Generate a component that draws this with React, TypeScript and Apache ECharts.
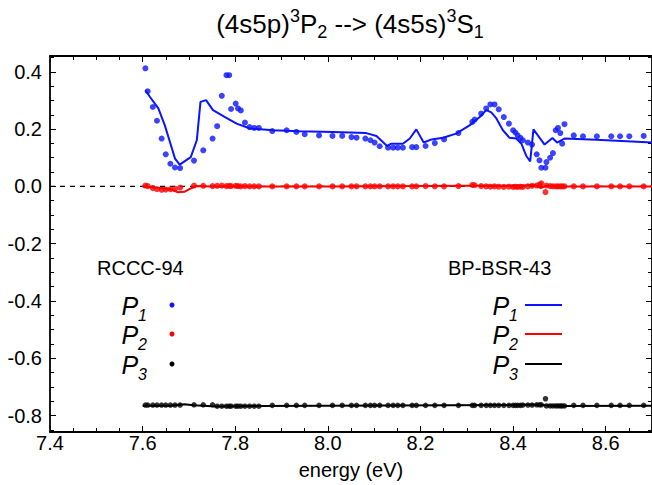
import React, { useEffect, useRef } from "react";
import * as echarts from "echarts";

// RCCC-94 energies (eV), shared by the three polarisation components
const rcccEnergy = [
  7.606, 7.611, 7.622, 7.631, 7.641, 7.65, 7.66, 7.67, 7.681, 7.711, 7.731, 7.751, 7.761, 7.771, 7.781, 7.787,
  7.791, 7.801, 7.806, 7.812, 7.821, 7.831, 7.841, 7.851, 7.88, 7.911, 7.932, 7.95, 7.981, 8.01, 8.031, 8.051,
  8.062, 8.081, 8.092, 8.101, 8.112, 8.13, 8.141, 8.151, 8.162, 8.182, 8.191, 8.211, 8.231, 8.251, 8.282, 8.312,
  8.317, 8.331, 8.342, 8.351, 8.36, 8.369, 8.38, 8.391, 8.4, 8.405, 8.41, 8.416, 8.421, 8.432, 8.441, 8.451,
  8.457, 8.461, 8.47, 8.472, 8.48, 8.486, 8.492, 8.497, 8.502, 8.506, 8.511, 8.531, 8.551, 8.581, 8.612, 8.631,
  8.651, 8.682,
];
const rcccP1 = [
  0.412, 0.332, 0.277, 0.229, 0.167, 0.112, 0.079, 0.066, 0.064, 0.09, 0.126, 0.167, 0.21, 0.316, 0.388, 0.388,
  0.27, 0.289, 0.272, 0.265, 0.223, 0.207, 0.204, 0.204, 0.193, 0.196, 0.19, 0.182, 0.178, 0.176, 0.176, 0.172,
  0.17, 0.167, 0.161, 0.153, 0.14, 0.135, 0.135, 0.135, 0.135, 0.137, 0.137, 0.141, 0.151, 0.164, 0.186, 0.225,
  0.233, 0.254, 0.272, 0.286, 0.286, 0.269, 0.242, 0.219, 0.196, 0.188, 0.178, 0.169, 0.161, 0.153, 0.146, 0.112,
  0.091, 0.065, 0.065, 0.085, 0.1, 0.116, 0.196, 0.204, 0.186, 0.149, 0.217, 0.178, 0.175, 0.175, 0.175, 0.175,
  0.175, 0.176,
];
const rcccP2 = [
  0.003, 0.001, -0.006, -0.01, -0.012, -0.011, -0.01, -0.008, -0.004, 0.003, 0.002, 0.001, 0.002, 0.003, 0.001, 0.002,
  0.001, 0.002, 0.001, 0.0, 0.001, 0.0, 0.0, 0.0, 0.0, 0.0, 0.0, 0.0, 0.0, 0.0, 0.0, 0.0,
  0.0, 0.0, 0.0, 0.0, 0.0, 0.0, 0.0, 0.0, 0.0, 0.0, 0.0, 0.001, 0.0, 0.0, 0.001, 0.005,
  0.004, 0.001, 0.0, -0.001, 0.0, -0.001, -0.002, -0.001, -0.002, -0.001, -0.002, -0.001, -0.002, 0.0, 0.002, 0.003,
  0.006, 0.011, -0.02, 0.003, 0.001, 0.0, 0.0, 0.0, 0.0, 0.0, 0.0, 0.0, 0.0, 0.0, 0.0, 0.0,
  0.0, 0.0,
];
const rcccP3 = [
  -0.763, -0.763, -0.763, -0.763, -0.763, -0.763, -0.763, -0.763, -0.763, -0.762, -0.762, -0.762, -0.767, -0.767, -0.767, -0.767,
  -0.767, -0.767, -0.767, -0.767, -0.767, -0.767, -0.767, -0.767, -0.764, -0.764, -0.764, -0.764, -0.764, -0.764, -0.764, -0.764,
  -0.764, -0.764, -0.764, -0.764, -0.764, -0.764, -0.764, -0.764, -0.764, -0.764, -0.764, -0.764, -0.764, -0.764, -0.764, -0.764,
  -0.764, -0.764, -0.764, -0.764, -0.764, -0.764, -0.764, -0.764, -0.764, -0.764, -0.764, -0.764, -0.763, -0.763, -0.763, -0.762,
  -0.762, -0.762, -0.741, -0.766, -0.766, -0.766, -0.766, -0.766, -0.766, -0.766, -0.766, -0.764, -0.764, -0.764, -0.764, -0.764,
  -0.764, -0.764,
];

// BP-BSR-43 curves
const bpEnergyP1 = [
  7.606, 7.616, 7.634, 7.648, 7.659, 7.67, 7.68, 7.704, 7.717, 7.725, 7.737, 7.752, 7.778, 7.803, 7.832, 7.882,
  7.939, 8.011, 8.083, 8.105, 8.128, 8.137, 8.162, 8.177, 8.191, 8.207, 8.224, 8.249, 8.277, 8.306, 8.328, 8.342,
  8.353, 8.364, 8.378, 8.392, 8.407, 8.418, 8.428, 8.437, 8.444, 8.468, 8.485, 8.495, 8.511, 8.58, 8.7,
];
const bpP1 = [
  0.336, 0.312, 0.272, 0.213, 0.155, 0.097, 0.076, 0.102, 0.161, 0.295, 0.301, 0.266, 0.242, 0.219, 0.202, 0.196,
  0.192, 0.19, 0.186, 0.176, 0.141, 0.149, 0.149, 0.167, 0.199, 0.153, 0.164, 0.17, 0.184, 0.213, 0.242, 0.266,
  0.258, 0.237, 0.196, 0.17, 0.167, 0.149, 0.108, 0.087, 0.199, 0.146, 0.169, 0.153, 0.167, 0.163, 0.153,
];
const bpEnergyP2 = [7.6, 7.64, 7.66, 7.675, 7.69, 7.7, 7.715, 7.75, 8.0, 8.3, 8.42, 8.445, 8.46, 8.47, 8.5, 8.7];
const bpP2 = [0.0, -0.006, -0.01, -0.02, -0.019, -0.01, 0.001, 0.0, 0.0, 0.002, 0.002, 0.006, -0.006, 0.002, 0.0, 0.0];
const bpEnergyP3 = [7.6, 7.66, 7.69, 7.71, 7.76, 7.85, 8.0, 8.4, 8.44, 8.47, 8.5, 8.7];
const bpP3 = [-0.765, -0.765, -0.76, -0.764, -0.768, -0.766, -0.765, -0.763, -0.761, -0.764, -0.766, -0.765];

const BLUE = "#0a14ff";
const RED = "#ff0000";
const BLACK = "#000000";
const FONT = "Liberation Sans";

const pairs = (xs: number[], ys: number[]) => xs.map((x, i) => [x, ys[i]]);

export default function App() {
  const ref = useRef<HTMLDivElement>(null);
  useEffect(() => {
    if (!ref.current) return;
    const chart = echarts.init(ref.current, null, { renderer: "svg" });
    const axisCommon = {
      type: "value" as const,
      axisLine: { show: true, onZero: false, lineStyle: { color: BLACK, width: 1.8 } },
      axisTick: { show: true, inside: true, length: 6, lineStyle: { color: BLACK, width: 1 } },
      minorTick: { show: true, splitNumber: 4, length: 4, lineStyle: { color: BLACK, width: 1 } },
      splitLine: { show: false },
    };
    const labelStyle = { color: BLACK, fontSize: 20, fontFamily: FONT };
    const pRich = {
      p: { fontSize: 25, fontStyle: "italic", fontFamily: FONT, fill: BLACK, lineHeight: 30, verticalAlign: "top" },
      s: { fontSize: 16, fontStyle: "italic", fontFamily: FONT, fill: BLACK, lineHeight: 16, verticalAlign: "bottom" },
    };
    const pText = (label: string, x: number, y: number) => ({
      type: "text",
      x,
      y,
      style: {
        text: `{p|P}{s|${label}}`,
        rich: pRich,
        align: "right",
        verticalAlign: "middle",
      },
    });
    const legendRows = [305, 334, 364];
    const colors = [BLUE, RED, BLACK];
    const graphics: any[] = [
      {
        type: "text",
        x: 350,
        y: 24,
        style: {
          text: "{m|(4s5p)}{u|3}{m|P}{d|2}{m| --> (4s5s)}{u|3}{m|S}{d|1}",
          align: "center",
          verticalAlign: "middle",
          rich: {
            m: { fontSize: 26, fontFamily: FONT, fill: BLACK, lineHeight: 34 },
            u: { fontSize: 18, fontFamily: FONT, fill: BLACK, lineHeight: 17, verticalAlign: "top" },
            d: { fontSize: 18, fontFamily: FONT, fill: BLACK, lineHeight: 17, verticalAlign: "bottom" },
          },
        },
      },
      { type: "text", x: 97, y: 268, style: { text: "RCCC-94", font: `20px "${FONT}"`, fill: BLACK, verticalAlign: "middle" } },
      { type: "text", x: 448, y: 268, style: { text: "BP-BSR-43", font: `20px "${FONT}"`, fill: BLACK, verticalAlign: "middle" } },
    ];
    ["1", "2", "3"].forEach((l, i) => {
      graphics.push(pText(l, 147, legendRows[i] + 3));
      graphics.push(pText(l, 518, legendRows[i] + 3));
      graphics.push({ type: "circle", shape: { cx: 172, cy: legendRows[i], r: 2.5 }, style: { fill: colors[i] } });
      graphics.push({
        type: "line",
        shape: { x1: 525, y1: legendRows[i], x2: 562, y2: legendRows[i] },
        style: { stroke: colors[i], lineWidth: 2 },
      });
    });

    chart.setOption({
      animation: false,
      grid: { left: 50, width: 602, top: 56, height: 377, containLabel: false },
      xAxis: [
        {
          ...axisCommon,
          position: "bottom",
          min: 7.4,
          max: 8.7,
          interval: 0.2,
          axisLabel: { ...labelStyle, margin: 1, showMaxLabel: false, formatter: (v: number) => v.toFixed(1) },
          name: "energy (eV)",
          nameLocation: "middle",
          nameGap: 28,
          nameTextStyle: labelStyle,
        },
        {
          ...axisCommon,
          position: "top",
          min: 7.4,
          max: 8.7,
          interval: 0.2,
          axisLabel: { show: false },
        },
      ],
      yAxis: [
        {
          ...axisCommon,
          position: "left",
          min: -0.857,
          max: 0.455,
          splitNumber: 7,
          axisLabel: {
            ...labelStyle,
            margin: 8,
            showMinLabel: false,
            showMaxLabel: false,
            formatter: (v: number) => v.toFixed(1),
          },
        },
        {
          ...axisCommon,
          position: "right",
          min: -0.857,
          max: 0.455,
          splitNumber: 7,
          axisLabel: { show: false },
        },
      ],
      series: [
        {
          type: "line",
          data: [
            [7.4, 0],
            [8.7, 0],
          ],
          symbol: "none",
          lineStyle: { color: BLACK, width: 1.2, type: [5, 5] },
          silent: true,
          z: 1,
        },
        {
          type: "line",
          name: "BP P1",
          data: pairs(bpEnergyP1, bpP1),
          symbol: "none",
          lineStyle: { color: BLUE, width: 2 },
          z: 2,
        },
        {
          type: "line",
          name: "BP P2",
          data: pairs(bpEnergyP2, bpP2),
          symbol: "none",
          lineStyle: { color: RED, width: 2 },
          z: 2,
        },
        {
          type: "line",
          name: "BP P3",
          data: pairs(bpEnergyP3, bpP3),
          symbol: "none",
          lineStyle: { color: BLACK, width: 2 },
          z: 2,
        },
        {
          type: "scatter",
          name: "RCCC P1",
          data: pairs(rcccEnergy, rcccP1),
          symbolSize: 6,
          itemStyle: { color: BLUE },
          z: 3,
        },
        {
          type: "scatter",
          name: "RCCC P2",
          data: pairs(rcccEnergy, rcccP2),
          symbolSize: 6,
          itemStyle: { color: RED },
          z: 3,
        },
        {
          type: "scatter",
          name: "RCCC P3",
          data: pairs(rcccEnergy, rcccP3),
          symbolSize: 5.5,
          itemStyle: { color: BLACK },
          z: 3,
        },
      ],
      graphic: graphics,
    });
    return () => chart.dispose();
  }, []);
  return (
    <div
      ref={ref}
      style={{ position: "absolute", left: 0, top: 0, width: 652, height: 485, background: "#fff" }}
    />
  );
}
